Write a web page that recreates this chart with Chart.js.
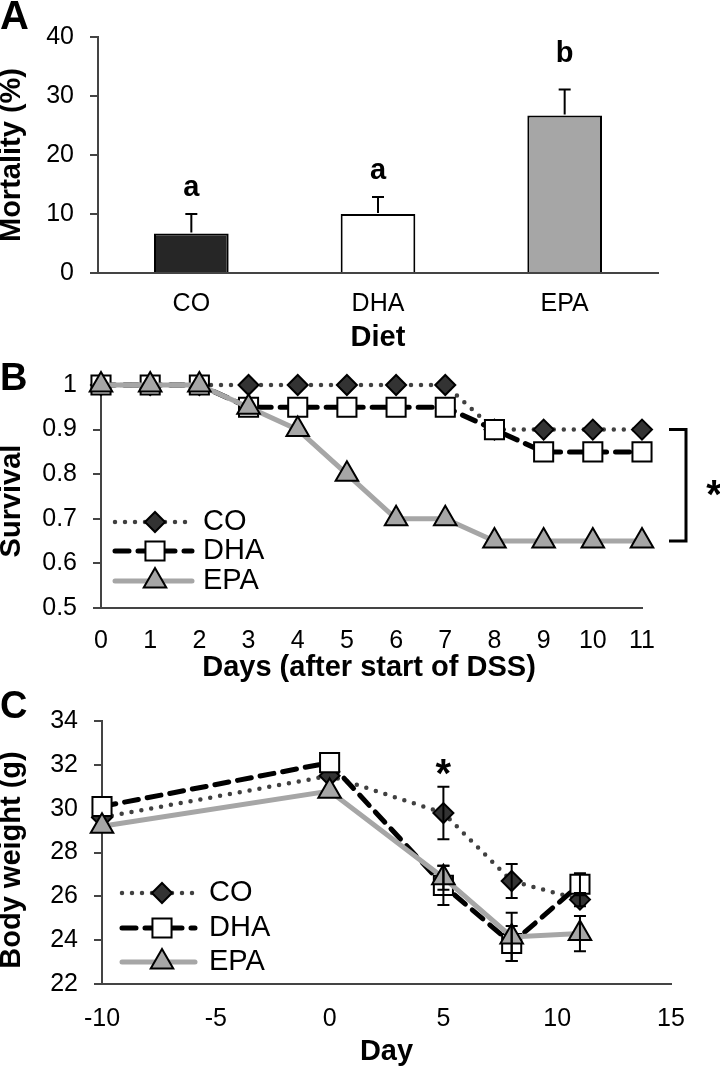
<!DOCTYPE html>
<html>
<head>
<meta charset="utf-8">
<script src="https://cdn.jsdelivr.net/npm/chart.js@4/dist/chart.umd.min.js"></script>
<style>
  html, body { margin: 0; padding: 0; background: #fff; }
  #wrap { position: relative; width: 720px; height: 1068px; overflow: hidden; }
  canvas { position: absolute; left: 0; }
</style>
</head>
<body>
<div id="wrap">
  <canvas id="chartA" width="720" height="350" style="top:0"></canvas>
  <canvas id="chartB" width="720" height="340" style="top:350px"></canvas>
  <canvas id="chartC" width="720" height="378" style="top:690px"></canvas>
</div>
<script>
// ---- data ----
const dietLabels = ['CO', 'DHA', 'EPA'];
const mortality = [6.7, 10.0, 26.7];
const mortalityErr = [3.3, 2.9, 4.4];
const mortalityLetters = ['a', 'a', 'b'];

const survivalDays = [0, 1, 2, 3, 4, 5, 6, 7, 8, 9, 10, 11];
const survivalCO  = [1, 1, 1, 1, 1, 1, 1, 1, 0.9, 0.9, 0.9, 0.9];
const survivalDHA = [1, 1, 1, 0.95, 0.95, 0.95, 0.95, 0.95, 0.9, 0.85, 0.85, 0.85];
const survivalEPA = [1, 1, 1, 0.95, 0.9, 0.8, 0.7, 0.7, 0.65, 0.65, 0.65, 0.65];

const weightDays = [-10, 0, 5, 8, 11];
const weightCO  = [29.6, 31.5, 29.8, 26.7, 25.85];
const weightDHA = [30.1, 32.1, 26.5, 23.85, 26.55];
const weightEPA = [29.2, 30.8, 26.85, 24.15, 24.3];
const weightCOErr  = [0, 0, 1.2, 0.78, 0.3];
const weightDHAErr = [0, 0, 0.9, 0.8, 0.5];
const weightEPAErr = [0, 0, 0.55, 1.1, 0.8];

const mortTicks = [0, 10, 20, 30, 40];
const survTicks = [0.5, 0.6, 0.7, 0.8, 0.9, 1];
const weightTicksY = [22, 24, 26, 28, 30, 32, 34];
const weightTicksX = [-10, -5, 0, 5, 10, 15];

// ---- styles ----
const FAM = '"Liberation Sans", Arial, Helvetica, sans-serif';
Chart.defaults.font.family = FAM;
Chart.defaults.color = '#000';
const AXIS = '#444';
const TICK_SIZE = 25;

const seriesStyle = {
  CO:  { borderColor: '#404040', borderWidth: 4.5, borderDash: [0, 10], borderCapStyle: 'round',
         pointStyle: 'rectRot', pointRadius: 10, pointBackgroundColor: '#333', pointBorderColor: '#000', pointBorderWidth: 2 },
  DHA: { borderColor: '#000', borderWidth: 5, borderDash: [14, 9], borderCapStyle: 'round',
         pointStyle: 'rect', pointRadius: 13.5, pointBackgroundColor: '#fff', pointBorderColor: '#000', pointBorderWidth: 2 },
  EPA: { borderColor: '#a6a6a6', borderWidth: 5, borderDash: [], borderCapStyle: 'round',
         pointStyle: 'triangle', pointRadius: 13, pointBackgroundColor: '#a6a6a6', pointBorderColor: '#000', pointBorderWidth: 2 }
};

// ---- helpers ----
function text(ctx, str, x, y, size, bold, opt) {
  opt = opt || {};
  ctx.save();
  ctx.font = (bold ? 'bold ' : '') + size + 'px ' + FAM;
  ctx.fillStyle = '#000';
  ctx.textAlign = opt.align || 'center';
  ctx.textBaseline = opt.baseline || 'middle';
  ctx.translate(x, y);
  if (opt.rot) ctx.rotate(opt.rot);
  ctx.fillText(str, 0, 0);
  ctx.restore();
}

function yAxis(min, max, ticksArr, width) {
  return {
    min, max,
    afterBuildTicks: s => { s.ticks = ticksArr.map(v => ({ value: v })); },
    afterFit: s => { s.width = width; },
    ticks: { font: { size: TICK_SIZE }, padding: 16, callback: v => String(Math.round(v * 100) / 100) },
    grid: { drawOnChartArea: false, tickLength: 8, color: AXIS, lineWidth: 2 },
    border: { color: AXIS, width: 2 }
  };
}

function drawMarker(ctx, st, x, y) {
  if (Chart.helpers && Chart.helpers.drawPoint) {
    ctx.save();
    ctx.fillStyle = st.pointBackgroundColor;
    ctx.strokeStyle = st.pointBorderColor;
    ctx.lineWidth = st.pointBorderWidth;
    Chart.helpers.drawPoint(ctx, { pointStyle: st.pointStyle, radius: st.pointRadius, rotation: 0, borderWidth: st.pointBorderWidth }, x, y);
    ctx.restore();
  }
}

function drawLegend(ctx, names, x0, x1, xm, xt, rows) {
  names.forEach((n, i) => {
    const st = seriesStyle[n];
    const y = rows[i];
    ctx.save();
    ctx.strokeStyle = st.borderColor;
    ctx.lineWidth = st.borderWidth;
    ctx.lineCap = st.borderCapStyle;
    ctx.setLineDash(st.borderDash);
    ctx.beginPath(); ctx.moveTo(x0, y); ctx.lineTo(x1, y); ctx.stroke();
    ctx.restore();
    drawMarker(ctx, st, xm, y);
    text(ctx, n, xt, y, 29, false, { align: 'left' });
  });
}

function errBar(ctx, x, yTop, yBot, bottomCap) {
  ctx.save();
  ctx.strokeStyle = '#000';
  ctx.lineWidth = 2;
  ctx.beginPath();
  ctx.moveTo(x, yBot); ctx.lineTo(x, yTop);
  ctx.moveTo(x - 6, yTop); ctx.lineTo(x + 6, yTop);
  if (bottomCap) { ctx.moveTo(x - 6, yBot); ctx.lineTo(x + 6, yBot); }
  ctx.stroke();
  ctx.restore();
}

function lineSet(label, data, order) {
  return Object.assign({ label, data, order, clip: false, tension: 0, fill: false, pointHoverRadius: 0 }, seriesStyle[label]);
}

// ---- A: mortality ----
const letterGap = [18, 18, 28];
new Chart(document.getElementById('chartA'), {
  type: 'bar',
  data: {
    labels: dietLabels,
    datasets: [{
      data: mortality,
      backgroundColor: ['#262626', '#ffffff', '#a6a6a6'],
      borderColor: '#000', borderWidth: 2,
      barPercentage: 0.4, categoryPercentage: 1
    }]
  },
  options: {
    responsive: false, animation: false,
    layout: { padding: { top: 37, right: 62, left: 0, bottom: 0 } },
    plugins: { legend: { display: false }, tooltip: { enabled: false } },
    scales: {
      x: {
        afterFit: s => { s.height = 77; },
        ticks: { font: { size: TICK_SIZE }, padding: 16 },
        grid: { display: false, drawTicks: false },
        border: { color: AXIS, width: 2 }
      },
      y: yAxis(0, 40, mortTicks, 98)
    }
  },
  plugins: [{
    id: 'decoA',
    afterDatasetsDraw(chart) {
      const { ctx, scales: { x, y } } = chart;
      mortality.forEach((v, i) => {
        const px = x.getPixelForValue(i);
        errBar(ctx, px, y.getPixelForValue(v + mortalityErr[i]), y.getPixelForValue(v) - 1, false);
      });
    },
    afterDraw(chart) {
      const { ctx, scales: { x, y } } = chart;
      text(ctx, 'A', 0, 29, 40, true, { align: 'left', baseline: 'alphabetic' });
      text(ctx, 'Mortality (%)', 12, 155, 29, true, { rot: -Math.PI / 2 });
      text(ctx, 'Diet', x.getPixelForValue(1), 338, 29, true);
      mortalityLetters.forEach((l, i) => {
        const top = y.getPixelForValue(mortality[i] + mortalityErr[i]);
        text(ctx, l, x.getPixelForValue(i), top - letterGap[i], 29, true, { baseline: 'alphabetic' });
      });
    }
  }]
});

// ---- B: survival ----
new Chart(document.getElementById('chartB'), {
  type: 'line',
  data: {
    labels: survivalDays,
    datasets: [
      lineSet('CO', survivalDays.map((d, i) => ({ x: d, y: survivalCO[i] })), 3),
      lineSet('DHA', survivalDays.map((d, i) => ({ x: d, y: survivalDHA[i] })), 2),
      lineSet('EPA', survivalDays.map((d, i) => ({ x: d, y: survivalEPA[i] })), 1)
    ]
  },
  options: {
    responsive: false, animation: false,
    layout: { padding: { top: 35, right: 78, left: 0, bottom: 0 } },
    plugins: { legend: { display: false }, tooltip: { enabled: false } },
    scales: {
      x: {
        type: 'linear', min: 0, max: 11,
        afterBuildTicks: s => { s.ticks = survivalDays.map(v => ({ value: v })); },
        afterFit: s => { s.height = 82; },
        ticks: { font: { size: TICK_SIZE }, padding: 18 },
        grid: { display: false, drawTicks: false },
        border: { color: AXIS, width: 2 }
      },
      y: yAxis(0.5, 1, survTicks, 101)
    }
  },
  plugins: [{
    id: 'decoB',
    afterDraw(chart) {
      const { ctx, scales: { y } } = chart;
      text(ctx, 'B', 0, 40, 38, true, { align: 'left', baseline: 'alphabetic' });
      text(ctx, 'Survival', 12, 151, 29, true, { rot: -Math.PI / 2 });
      text(ctx, 'Days (after start of DSS)', 369, 318, 29, true);
      drawLegend(ctx, ['CO', 'DHA', 'EPA'], 115, 192, 155, 203, [172, 201, 231]);
      // significance bracket
      const yt = y.getPixelForValue(0.9), yb = y.getPixelForValue(0.65);
      ctx.save();
      ctx.strokeStyle = '#000'; ctx.lineWidth = 3;
      ctx.beginPath();
      ctx.moveTo(669, yt); ctx.lineTo(686, yt); ctx.lineTo(686, yb); ctx.lineTo(669, yb);
      ctx.stroke();
      ctx.restore();
      text(ctx, '*', 714, (yt + yb) / 2 + 23, 40, true, { baseline: 'alphabetic' });
    }
  }]
});

// ---- C: body weight ----
const weightErrs = [weightCOErr, weightDHAErr, weightEPAErr];
new Chart(document.getElementById('chartC'), {
  type: 'line',
  data: {
    datasets: [
      lineSet('CO', weightDays.map((d, i) => ({ x: d, y: weightCO[i] })), 3),
      lineSet('DHA', weightDays.map((d, i) => ({ x: d, y: weightDHA[i] })), 2),
      lineSet('EPA', weightDays.map((d, i) => ({ x: d, y: weightEPA[i] })), 1)
    ]
  },
  options: {
    responsive: false, animation: false,
    layout: { padding: { top: 25, right: 49, left: 0, bottom: 0 } },
    plugins: { legend: { display: false }, tooltip: { enabled: false } },
    scales: {
      x: {
        type: 'linear', min: -10, max: 15,
        afterBuildTicks: s => { s.ticks = weightTicksX.map(v => ({ value: v })); },
        afterFit: s => { s.height = 84; },
        ticks: { font: { size: TICK_SIZE }, padding: 20 },
        grid: { display: false, drawTicks: false },
        border: { color: AXIS, width: 2 }
      },
      y: yAxis(22, 34, weightTicksY, 102)
    }
  },
  plugins: [{
    id: 'decoC',
    afterDatasetsDraw(chart) {
      const { ctx, scales: { x, y } } = chart;
      const series = [weightCO, weightDHA, weightEPA];
      series.forEach((arr, k) => {
        arr.forEach((v, j) => {
          const e = weightErrs[k][j];
          if (!e) return;
          errBar(ctx, x.getPixelForValue(weightDays[j]), y.getPixelForValue(v + e), y.getPixelForValue(v - e), true);
        });
      });
    },
    afterDraw(chart) {
      const { ctx, scales: { x } } = chart;
      text(ctx, 'C', 0, 28, 38, true, { align: 'left', baseline: 'alphabetic' });
      text(ctx, 'Body weight (g)', 12, 170, 29, true, { rot: -Math.PI / 2 });
      text(ctx, 'Day', x.getPixelForValue(2.5), 362, 29, true);
      drawLegend(ctx, ['CO', 'DHA', 'EPA'], 122, 195, 162, 209, [203, 238, 272]);
      text(ctx, '*', x.getPixelForValue(5), 97, 40, true, { baseline: 'alphabetic' });
    }
  }]
});
</script>
</body>
</html>
